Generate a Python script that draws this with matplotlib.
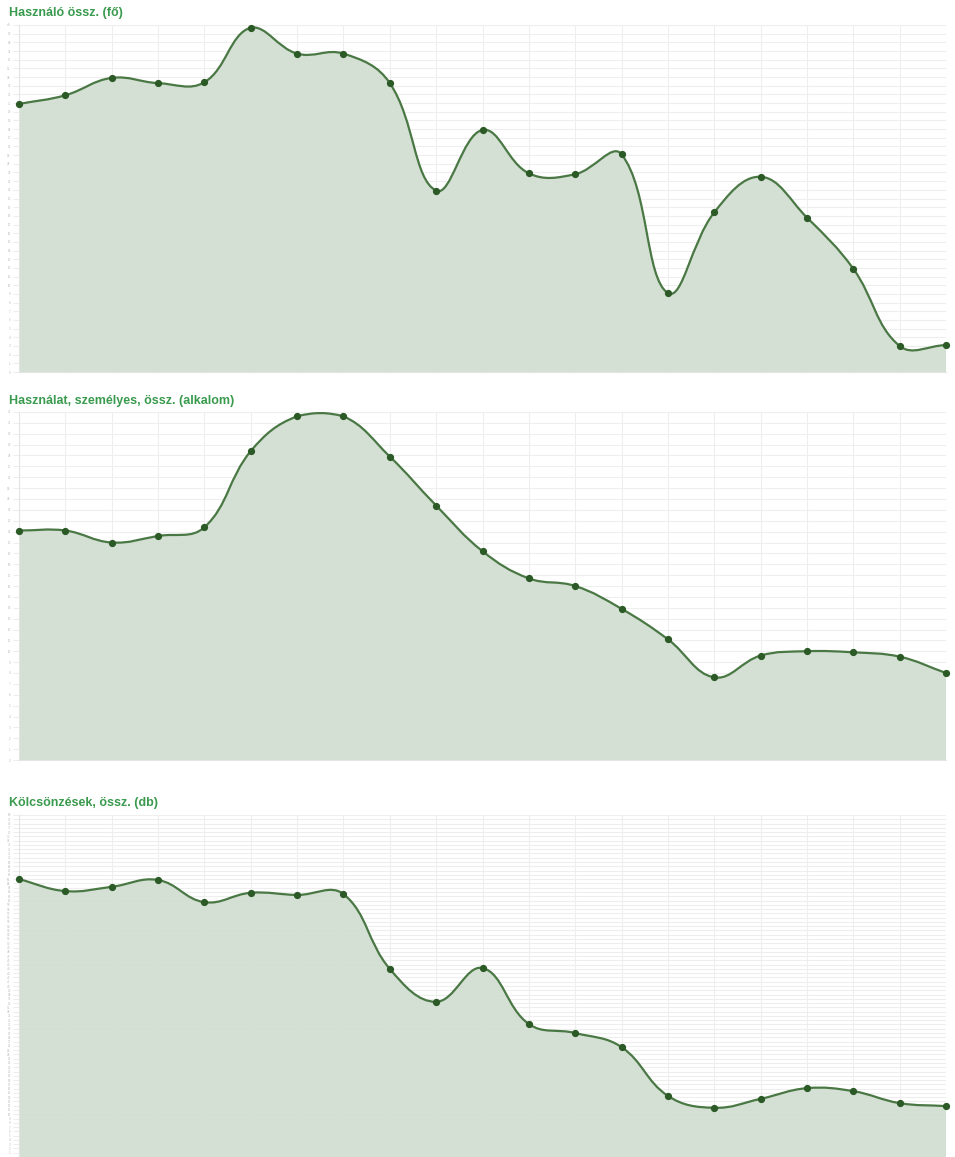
import numpy as np
import matplotlib
matplotlib.use("Agg")
import matplotlib.pyplot as plt
from matplotlib.path import Path
from matplotlib.patches import PathPatch

plt.rcParams['font.family'] = ['Liberation Sans', 'DejaVu Sans']

# data (arbitrary units, one point per period)
periods = list(range(21))

users_title = "Használó össz. (fő)"
users = [30.9, 31.9, 33.9, 33.3, 33.4, 39.7, 36.7, 36.7, 33.3, 20.9, 27.9,
         22.9, 22.8, 25.1, 9.1, 18.4, 22.5, 17.8, 11.9, 3.0, 3.1]

usage_title = "Használat, személyes, össz. (alkalom)"
usage = [21.1, 21.1, 20.0, 20.6, 21.4, 28.4, 31.6, 31.6, 27.9, 23.4, 19.2,
         16.7, 16.0, 13.9, 11.1, 7.6, 9.6, 10.0, 9.9, 9.5, 8.0]

loans_title = "Kölcsönzések, össz. (db)"
loans = [65.0, 62.2, 63.2, 64.8, 59.6, 61.8, 61.3, 61.5, 44.0, 36.3, 44.2,
         31.1, 29.0, 25.7, 14.3, 11.5, 13.6, 16.1, 15.4, 12.6, 11.9]

LINE = "#4a7844"
DOT = "#2b5a26"
FILL = "#d2dfd2"
TITLE = "#3a9a4e"
GRID = "#eeeeee"

W, H = 955, 1157
fig = plt.figure(figsize=(W / 100, H / 100), dpi=100)


def spline_path(ax, xs, ys, tension=0.4):
    # chart.js style bezier, computed in display space
    pts = ax.transData.transform(np.column_stack([xs, ys]))
    n = len(pts)
    cps = []
    for i in range(n):
        prev = pts[max(i - 1, 0)]
        cur = pts[i]
        nxt = pts[min(i + 1, n - 1)]
        d01 = np.hypot(*(cur - prev))
        d12 = np.hypot(*(nxt - cur))
        tot = d01 + d12
        s01 = d01 / tot if tot else 0
        s12 = d12 / tot if tot else 0
        c1 = cur - tension * s01 * (nxt - prev)
        c2 = cur + tension * s12 * (nxt - prev)
        cps.append((c1, c2))
    inv = ax.transData.inverted()
    y0, y1 = ax.get_ylim()
    verts = [pts[0]]
    codes = [Path.MOVETO]
    for i in range(n - 1):
        verts += [cps[i][1], cps[i + 1][0], pts[i + 1]]
        codes += [Path.CURVE4] * 3
    verts = inv.transform(np.array(verts))
    verts[:, 1] = np.clip(verts[:, 1], y0, y1)
    return verts, codes


def panel(top, bottom, title, values, ymax, title_y, skip_zero=False):
    ax = fig.add_axes([19 / W, 1 - bottom / H, 927 / W, (bottom - top) / H])
    ax.set_xlim(0, 20)
    ax.set_ylim(0, ymax)
    ax.set_xticks(periods)
    ax.set_yticks(np.arange(0, ymax + 1, 1))
    ax.set_xticklabels([])
    labels = [str(v) for v in range(0, ymax + 1)]
    if skip_zero:
        labels[0] = ""
    ax.set_yticklabels(labels, fontsize=2.2, color="#bbbbbb")
    ax.tick_params(axis="y", length=4, color=GRID, pad=2)
    ax.tick_params(axis="x", length=0)
    ax.grid(True, color=GRID, linewidth=0.8)
    ax.set_axisbelow(True)
    for s in ["top", "right"]:
        ax.spines[s].set_visible(False)
    ax.spines["left"].set_color("#e4e4e4")
    ax.spines["bottom"].set_color("#e4e4e4")

    verts, codes = spline_path(ax, periods, values)
    area = np.vstack([verts, [[periods[-1], 0], [periods[0], 0], verts[0]]])
    acodes = codes + [Path.LINETO, Path.LINETO, Path.CLOSEPOLY]
    ax.add_patch(PathPatch(Path(area, acodes), facecolor=FILL, edgecolor="none", alpha=0.95, zorder=2))
    ax.add_patch(PathPatch(Path(verts, codes), facecolor="none", edgecolor=LINE, linewidth=1.6, zorder=3))
    ax.plot(periods, values, "o", color=DOT, markersize=4.2, zorder=4, clip_on=False)

    fig.text(9 / W, 1 - title_y / H, title, color=TITLE, fontsize=9, fontweight="bold", va="center")
    return ax


panel(25, 372, users_title, users, 40, 13)
panel(412, 760, usage_title, usage, 32, 401)
panel(815, 1157, loans_title, loans, 80, 803, skip_zero=True)

fig.savefig("out.png", dpi=100)
